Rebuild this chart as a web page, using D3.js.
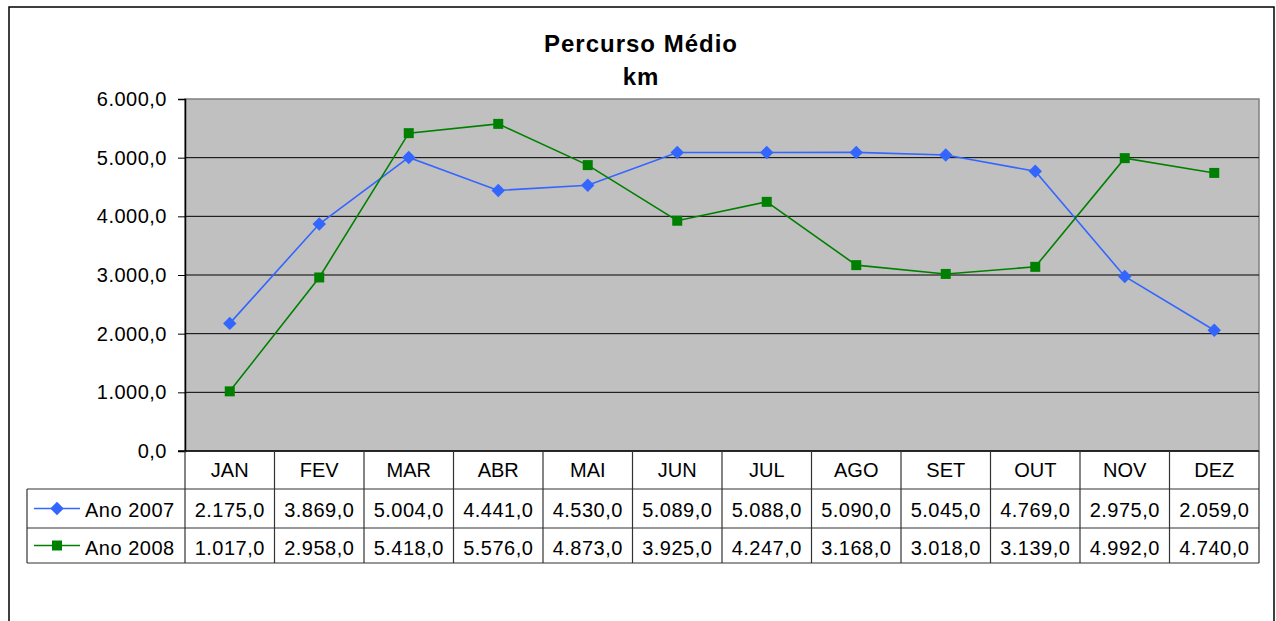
<!DOCTYPE html>
<html>
<head>
<meta charset="utf-8">
<script src="https://cdn.jsdelivr.net/npm/d3@7"></script>
<style>
  body { margin: 0; background: #fff; }
  text { font-family: "Liberation Sans", Arial, sans-serif; fill: #000; }
</style>
</head>
<body>
<div id="chart"></div>
<script>
// data
var months = ["JAN", "FEV", "MAR", "ABR", "MAI", "JUN", "JUL", "AGO", "SET", "OUT", "NOV", "DEZ"];
var ano2007 = [2175, 3869, 5004, 4441, 4530, 5089, 5088, 5090, 5045, 4769, 2975, 2059];
var ano2008 = [1017, 2958, 5418, 5576, 4873, 3925, 4247, 3168, 3018, 3139, 4992, 4740];
var yTicks = [0, 1000, 2000, 3000, 4000, 5000, 6000];
var seriesNames = ["Ano 2007", "Ano 2008"];
var seriesColors = ["#3366ff", "#008000"];

var W = 1276, H = 621;
var plot = {left: 185, right: 1259, top: 99, bottom: 451};
var rowY = [451, 489, 528, 563];

// number format 1.234,0
var fmt = function (v) {
    var s = d3.format(",.1f")(v);
    return s.replace(/,/g, "#").replace(".", ",").replace(/#/g, ".");
}

var svg = d3.select("#chart").append("svg")
    .attr("width", W)
    .attr("height", H);

// chart border
svg.append("rect")
    .attr("x", 9).attr("y", 7)
    .attr("width", 1265).attr("height", 700)
    .attr("fill", "#fff")
    .attr("stroke", "#000")
    .attr("stroke-width", 1.5);

// title
svg.append("text")
    .attr("x", 641).attr("y", 52)
    .attr("text-anchor", "middle")
    .style("font-size", "24px").style("font-weight", "bold").style("letter-spacing", "1px")
    .text("Percurso Médio");
svg.append("text")
    .attr("x", 641).attr("y", 85)
    .attr("text-anchor", "middle")
    .style("font-size", "24px").style("font-weight", "bold").style("letter-spacing", "1px")
    .text("km");

var x = d3.scaleBand()
    .domain(months)
    .range([plot.left, plot.right]);

var y = d3.scaleLinear()
    .domain([0, 6000])
    .range([plot.bottom, plot.top]);

// plot area
svg.append("rect")
    .attr("x", plot.left).attr("y", plot.top)
    .attr("width", plot.right - plot.left).attr("height", plot.bottom - plot.top)
    .attr("fill", "#c0c0c0")
    .attr("stroke", "#808080")
    .attr("stroke-width", 1.5);

// gridlines
svg.append("g")
    .selectAll("line")
    .data(yTicks.filter(d => d > 0 && d < 6000))
    .enter().append("line")
    .attr("x1", plot.left).attr("x2", plot.right)
    .attr("y1", d => y(d)).attr("y2", d => y(d))
    .attr("stroke", "#000")
    .attr("stroke-width", 1);

// y axis
var yAxis = svg.append("g")
    .attr("transform", "translate(" + plot.left + ",0)")
    .call(d3.axisLeft(y).tickValues(yTicks).tickFormat(fmt).tickSize(7).tickPadding(11));
yAxis.select(".domain").attr("stroke", "#000").attr("stroke-width", 1.5);
yAxis.selectAll(".tick line").attr("stroke", "#000");
yAxis.selectAll(".tick text")
    .style("font-size", "20px").style("letter-spacing", "0.5px");

// x axis line
svg.append("line")
    .attr("x1", plot.left - 7).attr("x2", plot.right)
    .attr("y1", plot.bottom).attr("y2", plot.bottom)
    .attr("stroke", "#000").attr("stroke-width", 1.5);

// lines and markers
var series = [ano2007, ano2008];
var markers = [d3.symbol().type(d3.symbolDiamond2).size(115), d3.symbol().type(d3.symbolSquare).size(100)];
var line = d3.line()
    .x((d, i) => x(months[i]) + x.bandwidth() / 2)
    .y(d => y(d));

series.forEach(function (vals, s) {
    svg.append("path")
        .datum(vals)
        .attr("fill", "none")
        .attr("stroke", seriesColors[s])
        .attr("stroke-width", 1.6)
        .attr("d", line);

    svg.append("g")
        .selectAll("path")
        .data(vals)
        .enter().append("path")
        .attr("transform", (d, i) => "translate(" + (x(months[i]) + x.bandwidth() / 2) + "," + y(d) + ")")
        .attr("d", markers[s])
        .attr("fill", seriesColors[s]);
});

// data table
var table = svg.append("g");
var gridColor = "#333";

// horizontal lines
[rowY[1], rowY[2], rowY[3]].forEach(function (ry) {
    table.append("line")
        .attr("x1", 27).attr("x2", plot.right)
        .attr("y1", ry).attr("y2", ry)
        .attr("stroke", gridColor).attr("stroke-width", 1.2);
});
// left border of legend column
table.append("line")
    .attr("x1", 27).attr("x2", 27)
    .attr("y1", rowY[1]).attr("y2", rowY[3])
    .attr("stroke", gridColor).attr("stroke-width", 1.2);
// column separators
var colEdges = months.map(m => x(m)).concat([plot.right]);
table.selectAll(".col")
    .data(colEdges)
    .enter().append("line")
    .attr("x1", d => d).attr("x2", d => d)
    .attr("y1", rowY[0]).attr("y2", rowY[3])
    .attr("stroke", gridColor).attr("stroke-width", 1.2);

// header labels
table.selectAll(".hdr")
    .data(months)
    .enter().append("text")
    .attr("x", d => x(d) + x.bandwidth() / 2)
    .attr("y", 477)
    .attr("text-anchor", "middle")
    .style("font-size", "20px")
    .text(d => d);

// value rows
var textRowY = [517, 555];
series.forEach(function (vals, s) {
    table.selectAll(".v" + s)
        .data(vals)
        .enter().append("text")
        .attr("x", (d, i) => x(months[i]) + x.bandwidth() / 2)
        .attr("y", textRowY[s])
        .attr("text-anchor", "middle")
        .style("font-size", "20px").style("letter-spacing", "0.5px")
        .text(d => fmt(d));

    // legend key
    var ly = (rowY[s + 1] + rowY[s + 2]) / 2;
    table.append("line")
        .attr("x1", 34).attr("x2", 80)
        .attr("y1", ly).attr("y2", ly)
        .attr("stroke", seriesColors[s]).attr("stroke-width", 1.6);
    table.append("path")
        .attr("transform", "translate(57," + ly + ")")
        .attr("d", markers[s])
        .attr("fill", seriesColors[s]);
    table.append("text")
        .attr("x", 85).attr("y", textRowY[s])
        .style("font-size", "20px").style("letter-spacing", "0.5px")
        .text(seriesNames[s]);
});
</script>
</body>
</html>
